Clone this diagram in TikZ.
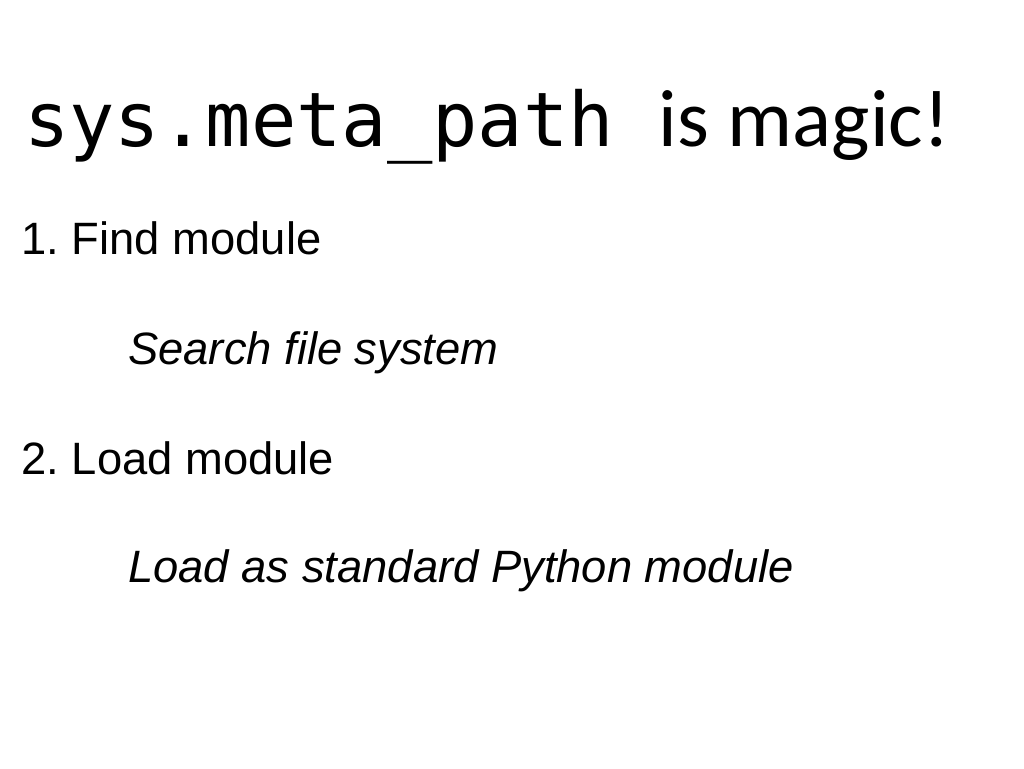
\documentclass[tikz,border=0pt]{standalone}
\usepackage{fontspec}
\setmainfont{Liberation Sans}
\newfontfamily\monof{DejaVu Sans Mono}
\newfontfamily\calib{Carlito}
\frenchspacing
\begin{document}
\begin{tikzpicture}[x=1pt,y=-1pt,
  txt/.style={anchor=base west,inner sep=0pt,font=\fontsize{34}{40}\selectfont},
  sub/.style={txt,font=\fontsize{34}{40}\selectfont\itshape}]
\useasboundingbox[fill=white] (0,0) rectangle (768,576);
\node[anchor=base west,inner sep=0pt,font=\monof\fontsize{56.5}{60}\selectfont] (t1) at (18,110) {sys.meta\_path};
\node[anchor=base west,inner sep=0pt,font=\calib\fontsize{61}{66}\selectfont] (t2) at (494,110) {is magic!};
\node[txt] (a) at (16,191) {1. Find module};
\node[sub] (b) at (96,273.5) {Search file system};
\node[txt] (c) at (16,356) {2. Load module};
\node[sub] (d) at (96,437) {Load as standard Python module};
\end{tikzpicture}
\end{document}
